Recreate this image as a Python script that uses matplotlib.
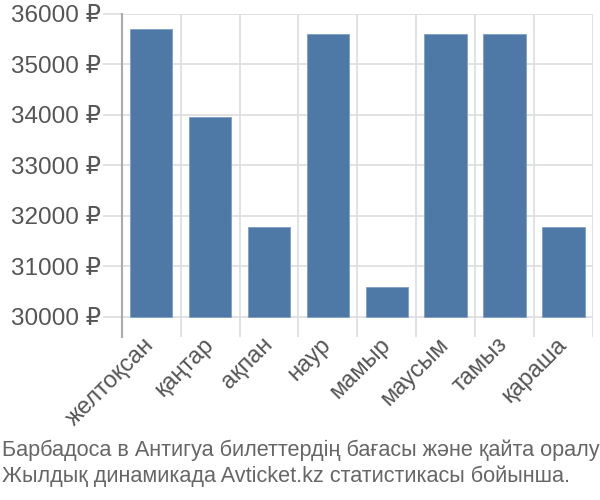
import matplotlib
matplotlib.use("Agg")
import matplotlib.pyplot as plt
import numpy as np

plt.rcParams['font.family'] = ['Liberation Sans', 'DejaVu Sans']

months = ["желтоқсан", "қаңтар", "ақпан", "наур", "мамыр", "маусым", "тамыз", "қараша"]
prices = [35700, 33960, 31780, 35600, 30600, 35600, 35600, 31780]
yticks = [30000, 31000, 32000, 33000, 34000, 35000, 36000]
ytick_labels = [f"{v} ₽" for v in yticks]
caption = ("Барбадоса в Антигуа билеттердің бағасы және қайта оралу\n"
           "Жылдық динамикада Avticket.kz статистикасы бойынша.")

base = 30000
fig = plt.figure(figsize=(6, 5), dpi=100)
ax = fig.add_axes([0.203, 0.326, 0.785, 0.646])

x = np.arange(len(months))
ax.bar(x, np.array(prices) - base, bottom=base, width=0.72,
       color="#4e79a7", edgecolor="#7f9fc4", linewidth=0.6, zorder=3)

ax.set_xlim(-0.5, len(months) - 0.5)
ax.set_ylim(29600, 36000)

ax.set_yticks(yticks)
ax.set_yticklabels(ytick_labels)
ax.set_xticks(x)
ax.set_xticklabels(months, rotation=45, ha="right", va="center", rotation_mode="anchor")
ax.set_xticks(np.arange(-0.5, len(months)), minor=True)

ax.tick_params(axis="y", length=14, color="#dddddd", width=1.2, labelsize=17.5,
               labelcolor="#555555", pad=1)
ax.tick_params(axis="x", which="major", length=0, labelsize=17, labelcolor="#555555", pad=3)
ax.tick_params(axis="x", which="minor", length=0)

ax.grid(axis="y", color="#dddddd", linewidth=1.2, zorder=0)
ax.grid(axis="x", which="minor", color="#dddddd", linewidth=1.2, zorder=0)

for s in ["top", "right", "bottom"]:
    ax.spines[s].set_visible(False)
ax.spines["left"].set_color("#aaaaaa")
ax.spines["left"].set_linewidth(1.5)

fig.text(0.003, 0.074, caption, ha="left", va="center", fontsize=15.6,
         color="#666666", linespacing=1.3)

fig.savefig("out.png", dpi=100)
